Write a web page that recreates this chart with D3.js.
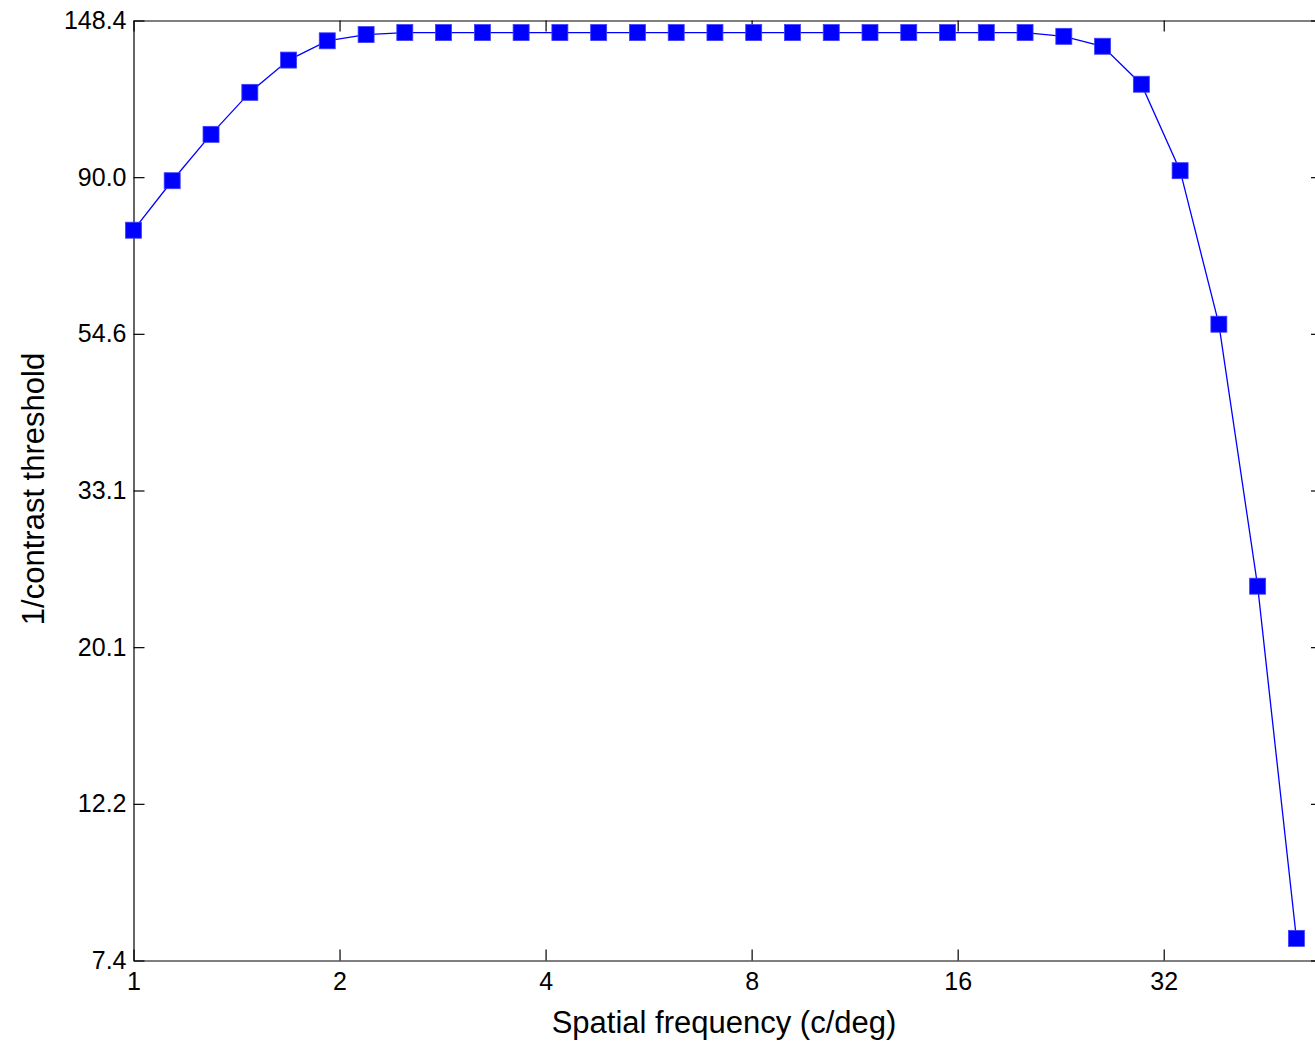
<!DOCTYPE html>
<html>
<head>
<meta charset="utf-8">
<script src="https://cdn.jsdelivr.net/npm/d3@7"></script>
<style>
  body { margin: 0; background: #fff; }
  text { font-family: "Liberation Sans", Arial, Helvetica, sans-serif; fill: #000; }
</style>
</head>
<body>
<script>
// Data (log-log axes)
var freqs = [1.000, 1.139, 1.298, 1.479, 1.685, 1.919, 2.187, 2.491, 2.838, 3.234,
             3.684, 4.197, 4.782, 5.448, 6.207, 7.071, 8.056, 9.178, 10.457, 11.913,
             13.572, 15.463, 17.617, 20.071, 22.866, 26.051, 29.680, 33.814, 38.524, 43.890, 50.000];
var sensitivity = [76.0, 89.0, 103.2, 118.0, 130.8, 139.1, 141.9, 142.8, 142.8, 142.8,
                   142.8, 142.8, 142.8, 142.8, 142.8, 142.8, 142.8, 142.8, 142.8, 142.8,
                   142.8, 142.8, 142.8, 142.8, 141.1, 136.7, 121.1, 91.9, 56.3, 24.4, 7.93];
var xTicks = [1, 2, 4, 8, 16, 32];
var yTicks = [7.389, 12.182, 20.086, 33.115, 54.598, 90.017, 148.413];
var xLabel = "Spatial frequency (c/deg)";
var yLabel = "1/contrast threshold";

// Set up svg
var svgWidth = 1315;
var svgHeight = 1044;

var margin = {
  top: 20.5,
  right: -7,
  bottom: 83.5,
  left: 133.5
};

var width = svgWidth - margin.left - margin.right;
var height = svgHeight - margin.top - margin.bottom;

var svg = d3.select("body")
  .append("svg")
  .attr("width", svgWidth)
  .attr("height", svgHeight);

var chartGroup = svg.append("g")
  .attr("transform", `translate(${margin.left}, ${margin.top})`);

// Scales
var xScale = d3.scaleLog().base(2).domain([1, 54.5]).range([0, width]);
var yScale = d3.scaleLog().domain([yTicks[0], yTicks[yTicks.length - 1]]).range([height, 0]);

var tickLen = 11;

// Axes (MATLAB style: ticks point inward, on all four sides)
var bottomAxis = d3.axisBottom(xScale).tickValues(xTicks).tickFormat(d3.format("d"))
  .tickSizeInner(-tickLen).tickSizeOuter(0).tickPadding(12);
var topAxis = d3.axisTop(xScale).tickValues(xTicks).tickFormat("")
  .tickSizeInner(-tickLen).tickSizeOuter(0);
var leftAxis = d3.axisLeft(yScale).tickValues(yTicks).tickFormat(d3.format(".1f"))
  .tickSizeInner(-tickLen).tickSizeOuter(0).tickPadding(7);
var rightAxis = d3.axisRight(yScale).tickValues(yTicks).tickFormat("")
  .tickSizeInner(-tickLen).tickSizeOuter(0);

function styleAxis(g) {
  g.selectAll("path, line").attr("stroke", "#000").attr("stroke-width", 1.2);
  g.selectAll("text").style("font-size", "25px").attr("fill", "#000");
}

chartGroup.append("g")
  .attr("transform", `translate(0, ${height})`)
  .call(bottomAxis)
  .call(styleAxis);

chartGroup.append("g")
  .call(topAxis)
  .call(styleAxis);

chartGroup.append("g")
  .call(leftAxis)
  .call(styleAxis);

chartGroup.append("g")
  .attr("transform", `translate(${width}, 0)`)
  .call(rightAxis)
  .call(styleAxis);

// Line
var data = freqs.map(function(f, i) { return { f: f, s: sensitivity[i] }; });

var line = d3.line()
  .x(d => xScale(d.f))
  .y(d => yScale(d.s));

chartGroup.append("path")
  .datum(data)
  .attr("fill", "none")
  .attr("stroke", "#0000ff")
  .attr("stroke-width", 1.3)
  .attr("d", line);

// Square markers
var markerSize = 16;
chartGroup.selectAll("rect.marker")
  .data(data)
  .enter()
  .append("rect")
  .attr("class", "marker")
  .attr("x", d => xScale(d.f) - markerSize / 2)
  .attr("y", d => yScale(d.s) - markerSize / 2)
  .attr("width", markerSize)
  .attr("height", markerSize)
  .attr("fill", "#0000ff")
  .attr("stroke", "#3f3fff")
  .attr("stroke-width", 0.8);

// Axis labels
chartGroup.append("text")
  .attr("x", 724 - margin.left)
  .attr("y", height + 72)
  .attr("text-anchor", "middle")
  .style("font-size", "31px")
  .text(xLabel);

chartGroup.append("text")
  .attr("transform", "rotate(-90)")
  .attr("x", -(489 - margin.top))
  .attr("y", -margin.left + 44)
  .attr("text-anchor", "middle")
  .style("font-size", "31px")
  .text(yLabel);
</script>
</body>
</html>
